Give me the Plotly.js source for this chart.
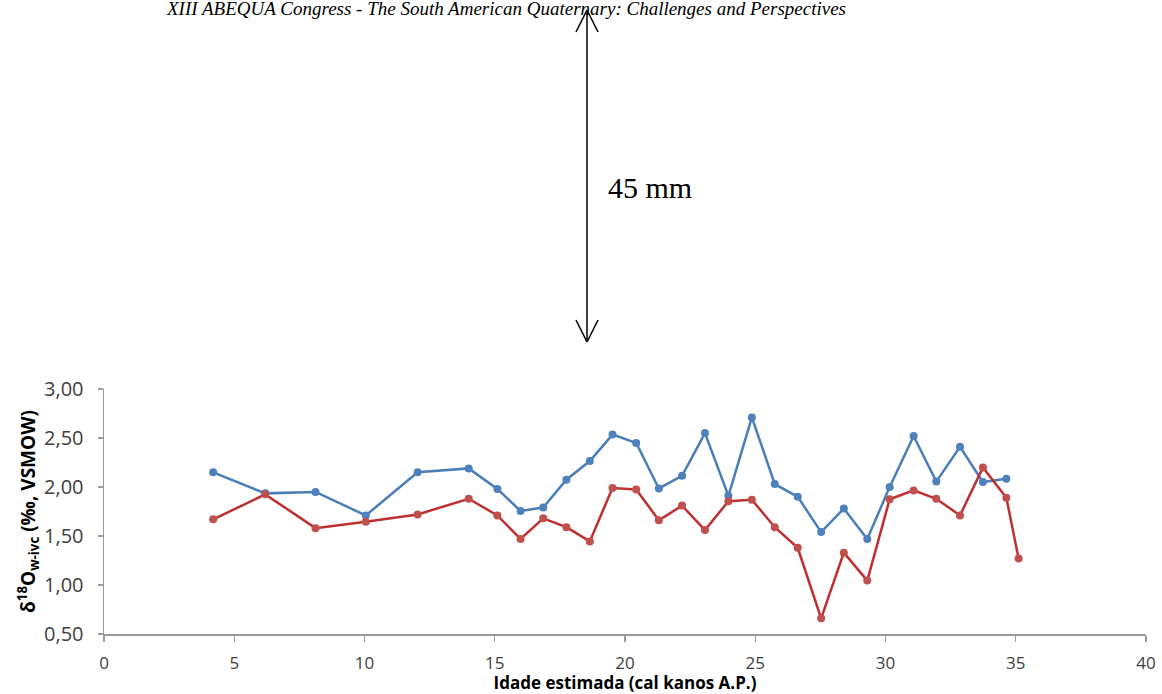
<!DOCTYPE html>
<html>
<head>
<meta charset="utf-8">
<script src="https://cdn.plot.ly/plotly-3.0.1.min.js"></script>
<style>html,body{margin:0;padding:0;background:#fff;}#chart{width:1162px;height:694px;}</style>
</head>
<body>
<div id="chart"></div>
<script>
// Estimated age (cal ka BP)
var ages = [4.19, 6.19, 8.12, 10.05, 12.04, 14.0, 15.1, 15.99, 16.86, 17.75, 18.65, 19.52, 20.43, 21.30, 22.19, 23.07, 23.97, 24.87, 25.75, 26.63, 27.53, 28.40, 29.30, 30.16, 31.08, 31.95, 32.86, 33.74, 34.64, 35.11];
// Blue series (d18O)
var blueVals = [2.15, 1.935, 1.95, 1.71, 2.15, 2.19, 1.98, 1.755, 1.79, 2.075, 2.265, 2.535, 2.45, 1.985, 2.115, 2.55, 1.91, 2.71, 2.03, 1.90, 1.54, 1.78, 1.47, 2.00, 2.52, 2.055, 2.41, 2.05, 2.085, null];
// Red series (d18O)
var redVals = [1.67, 1.925, 1.58, 1.645, 1.72, 1.88, 1.71, 1.47, 1.68, 1.59, 1.445, 1.99, 1.975, 1.66, 1.81, 1.56, 1.855, 1.87, 1.59, 1.38, 0.66, 1.33, 1.045, 1.875, 1.965, 1.88, 1.71, 2.20, 1.89, 1.27];
var xTicks = [0, 5, 10, 15, 20, 25, 30, 35, 40];
var yTicks = [0.5, 1.0, 1.5, 2.0, 2.5, 3.0];

var W = 1162, H = 694;
var M = {l: 104, r: 16, t: 0, b: 60};
var plotTopPx = 389;
var pw = W - M.l - M.r, ph = H - M.t - M.b;
function px(x) { return (x - M.l) / pw; }
function py(y) { return (H - M.b - y) / ph; }

var blue = {
  x: ages, y: blueVals, type: 'scatter', mode: 'lines+markers',
  line: {color: '#4A7EBB', width: 2.5},
  marker: {color: '#4F81BD', size: 8},
  connectgaps: false, hoverinfo: 'x+y'
};
var red = {
  x: ages, y: redVals, type: 'scatter', mode: 'lines+markers',
  line: {color: '#BE3030', width: 2.5},
  marker: {color: '#C0504D', size: 8},
  hoverinfo: 'x+y'
};

var axisColor = '#9A9A9A';
var tickColor = '#404040';

function seg(x0, y0, x1, y1) {
  return {type: 'line', xref: 'paper', yref: 'paper', x0: px(x0), y0: py(y0), x1: px(x1), y1: py(y1),
    line: {color: '#000', width: 1.5}};
}
var arrX = 587, arrTop = 10, arrBot = 342;
var shapes = [
  seg(arrX, arrTop, arrX, arrBot),
  seg(arrX, arrTop, arrX - 11, arrTop + 22), seg(arrX, arrTop, arrX + 11, arrTop + 22),
  seg(arrX, arrBot, arrX - 11, arrBot - 22), seg(arrX, arrBot, arrX + 11, arrBot - 22)
];

var layout = {
  width: W, height: H,
  margin: M,
  paper_bgcolor: '#fff', plot_bgcolor: '#fff',
  showlegend: false,
  separators: ',.',
  xaxis: {
    range: [0, 40], tickvals: xTicks, ticktext: xTicks.map(String),
    showgrid: false, zeroline: false, showline: true, linecolor: axisColor, linewidth: 1.5,
    ticks: 'outside', ticklen: 6, tickcolor: axisColor, tickwidth: 1.2,
    tickfont: {family: 'Open Sans, sans-serif', size: 17, color: tickColor}, ticklabelstandoff: 7,
    title: {text: 'Idade estimada (cal kanos A.P.)', font: {family: 'Open Sans, sans-serif', size: 17, color: '#000', weight: 'bold'}, standoff: 3},
    automargin: false
  },
  yaxis: {
    domain: [0, (H - M.b - plotTopPx) / ph],
    range: [0.5, 3.0], tickvals: yTicks, tickformat: '.2f',
    showgrid: false, zeroline: false, showline: true, linecolor: axisColor, linewidth: 1.5,
    ticks: 'outside', ticklen: 5, tickcolor: axisColor, tickwidth: 1.2,
    tickfont: {family: 'Open Sans, sans-serif', size: 20, color: tickColor}, ticklabelstandoff: 10,
    title: {text: 'δ<sup>18</sup>O<sub>w-ivc</sub> (‰, VSMOW)', font: {family: 'Open Sans, sans-serif', size: 19, color: '#000', weight: 'bold'}, standoff: 3},
    automargin: false
  },
  shapes: shapes,
  annotations: [
    {xref: 'paper', yref: 'paper', x: px(506), y: py(8), xanchor: 'center', yanchor: 'middle', showarrow: false,
     text: '<i>XIII ABEQUA Congress - The South American Quaternary: Challenges and Perspectives</i>',
     font: {family: 'Liberation Serif, Times New Roman, serif', size: 19, color: '#000'}},
    {xref: 'paper', yref: 'paper', x: px(606), y: py(187), xanchor: 'left', yanchor: 'middle', showarrow: false,
     text: '45 mm', font: {family: 'Liberation Serif, Times New Roman, serif', size: 30, color: '#000'}}
  ]
};

Plotly.newPlot('chart', [blue, red], layout, {staticPlot: true, displayModeBar: false});
</script>
</body>
</html>
